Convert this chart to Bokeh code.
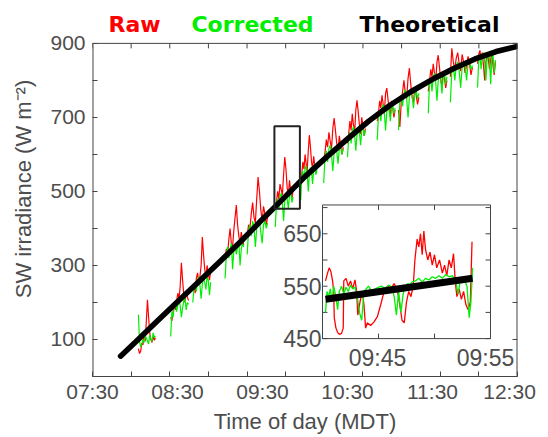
import numpy as np
from bokeh.plotting import figure
from bokeh.models import FixedTicker, Range1d
from bokeh.core.properties import value
from bokeh.embed import file_html
from bokeh.resources import INLINE

# ---------------- data (main panel), time in hours of day ----------------
theo_time = [7.83, 8.0, 8.25, 8.5, 8.75, 9.0, 9.25, 9.5, 9.75, 10.0, 10.25,
             10.5, 10.75, 11.0, 11.25, 11.5, 11.75, 12.0, 12.25, 12.5]
theo_sw = [55, 92, 147, 202, 256, 311, 366, 425, 482, 540, 592,
           642, 690, 733, 770, 803, 832, 858, 878, 892]

seg_start = [8.04, 8.42, 8.68, 9.06, 9.32, 9.65, 9.95, 10.22, 10.50, 10.85, 11.10, 11.45, 11.71, 12.03]
seg_end = [8.24, 8.63, 8.89, 9.28, 9.56, 9.86, 10.14, 10.45, 10.71, 11.06, 11.34, 11.67, 11.97, 12.24]

raw_segments = [
    [75, 62, 68, 90, 85, 110, 95, 150, 207, 160, 118, 100, 92, 110, 98, 105],
    [160, 150, 175, 195, 180, 205, 225, 210, 245, 307, 260, 220, 200, 230, 215, 205],
    [235, 250, 225, 265, 280, 255, 270, 300, 377, 330, 290, 270, 300, 280, 260, 285],
    [320, 345, 330, 370, 400, 360, 350, 395, 430, 463, 410, 380, 360, 390, 370, 355],
    [380, 410, 400, 440, 470, 430, 415, 480, 539, 500, 450, 420, 460, 440, 410, 430],
    [455, 470, 500, 480, 520, 505, 490, 545, 593, 560, 510, 490, 530, 500, 480, 505],
    [525, 550, 580, 560, 600, 575, 555, 610, 652, 620, 580, 560, 595, 570, 550, 575],
    [585, 605, 640, 620, 660, 635, 615, 670, 698, 665, 630, 610, 650, 625, 600, 620],
    [630, 655, 690, 665, 710, 680, 660, 720, 746, 715, 680, 655, 700, 675, 650, 670],
    [690, 710, 745, 725, 760, 735, 715, 765, 779, 750, 720, 705, 745, 725, 700, 720],
    [720, 674, 740, 770, 800, 765, 750, 805, 833, 790, 755, 740, 780, 760, 735, 755],
    [770, 795, 830, 810, 845, 820, 800, 850, 868, 835, 800, 785, 825, 805, 780, 800],
    [810, 887, 850, 830, 860, 875, 845, 825, 870, 850, 820, 840, 865, 845, 815, 835],
    [845, 870, 881, 855, 875, 840, 800, 850, 870, 860, 830, 855, 875, 840, 815, 850],
]
corr_segments = [
    [167, 95, 80, 88, 100, 92, 110, 104, 96, 88, 112, 100, 95, 118, 105, 110],
    [108, 175, 160, 190, 200, 175, 195, 210, 190, 160, 185, 205, 215, 180, 200, 195],
    [200, 240, 255, 230, 260, 270, 245, 210, 250, 265, 255, 235, 270, 260, 220, 255],
    [265, 330, 350, 320, 345, 360, 290, 340, 355, 330, 350, 365, 300, 345, 360, 350],
    [330, 395, 410, 380, 420, 405, 350, 400, 415, 425, 390, 360, 410, 420, 400, 415],
    [404, 465, 480, 450, 485, 495, 470, 420, 475, 490, 480, 455, 490, 500, 470, 485],
    [477, 540, 555, 530, 560, 570, 545, 500, 550, 565, 555, 520, 560, 575, 545, 560],
    [523, 595, 610, 580, 615, 625, 600, 555, 605, 620, 610, 575, 615, 625, 600, 615],
    [593, 645, 660, 630, 665, 675, 650, 610, 655, 670, 660, 625, 665, 680, 650, 665],
    [639, 705, 720, 690, 725, 735, 710, 665, 715, 730, 720, 690, 725, 735, 710, 725],
    [666, 745, 760, 730, 765, 775, 750, 700, 755, 770, 760, 725, 765, 775, 750, 765],
    [711, 790, 805, 770, 810, 820, 795, 745, 800, 815, 805, 765, 810, 820, 790, 810],
    [741, 825, 840, 800, 840, 850, 825, 780, 835, 850, 840, 800, 845, 855, 830, 840],
    [781, 855, 865, 830, 865, 875, 850, 800, 855, 870, 860, 790, 860, 870, 820, 855],
]

box_time = [9.64, 9.94]
box_sw = [453, 676]

x_lim = [7.5, 12.5]
y_lim = [0, 900]
x_tick_hours = [7.5, 8.5, 9.5, 10.5, 11.5, 12.5]
x_tick_labels = ["07:30", "08:30", "09:30", "10:30", "11:30", "12:30\u00a0\u00a0"]
x_minor = np.linspace(7.5, 12.5, 12).tolist()
y_tick_values = [100, 300, 500, 700, 900]
y_minor = list(range(0, 1000, 100))

legend_names = ["Raw", "Corrected", "Theoretical"]
legend_colors = ["#ff0000", "#00ee00", "#000000"]

# ---------------- data (inset), time in minutes after 09:40 ----------------
inset_raw_min = [0.27, 0.45, 0.6, 0.75, 0.9, 1.0, 1.05, 1.2, 1.35, 1.5, 1.7, 1.85, 1.9, 2.1, 2.3,
                 2.5, 2.7, 2.9, 3.05, 3.15, 3.35, 3.55, 3.7, 3.85, 4.0, 4.3, 4.6, 4.9, 5.2, 5.5,
                 5.8, 6.1, 6.4, 6.7, 6.9, 7.1, 7.3, 7.5, 7.7, 7.9, 8.1, 8.25, 8.45, 8.6, 8.75,
                 8.9, 9.05, 9.2, 9.4, 9.6, 9.8, 10.0, 10.2, 10.45, 10.7, 10.9, 11.1, 11.3, 11.5,
                 11.7, 11.85, 12.0, 12.2, 12.4, 12.6, 12.8, 13.0, 13.2, 13.35]
inset_raw_sw = [560, 575, 585, 578, 560, 540, 490, 470, 462, 458, 460, 470, 560, 565, 550,
                560, 545, 562, 540, 495, 520, 540, 515, 470, 480, 475, 482, 492, 515, 540,
                550, 545, 555, 540, 515, 485, 480, 520, 540, 530, 550, 600, 640, 625, 650,
                610, 655, 620, 600, 615, 590, 610, 585, 600, 575, 590, 570, 600, 585,
                612, 560, 530, 545, 525, 540, 515, 505, 520, 635]
inset_corr_min = [0.27, 0.4, 0.55, 0.7, 0.85, 1.0, 1.2, 1.35, 1.5, 1.7, 1.9, 2.1, 2.3, 2.5, 2.7,
                  2.9, 3.1, 3.3, 3.5, 3.7, 3.9, 4.1, 4.4, 4.7, 5.0, 5.3, 5.6, 5.9, 6.2, 6.4,
                  6.6, 6.8, 7.0, 7.2, 7.4, 7.6, 7.8, 8.0, 8.3, 8.6, 8.9, 9.2, 9.5, 9.8, 10.1,
                  10.4, 10.7, 11.0, 11.3, 11.6, 11.9, 12.1, 12.3, 12.6, 12.9, 13.1, 13.25, 13.4]
inset_corr_sw = [500, 540, 530, 545, 520, 550, 530, 505, 540, 550, 535, 548, 540, 552, 545,
                 548, 530, 500, 485, 540, 545, 550, 540, 545, 548, 550, 545, 552, 548, 530,
                 495, 540, 500, 535, 550, 555, 552, 558, 560, 565, 558, 565, 562, 568, 565,
                 570, 565, 572, 568, 570, 560, 535, 560, 565, 550, 490, 520, 585]
inset_theo_min = [0.27, 13.4]
inset_theo_sw = [525, 565]

inset_xlim = [0, 15]
inset_ylim = [450, 705]
inset_x_minor = [0, 5, 10, 15]
inset_x_ticks = [5, 15]
inset_x_labels = ["09:45", "09:55"]
inset_y_minor = [450, 500, 550, 600, 650, 700]
inset_y_ticks = [450, 550, 650]
inset_y_labels = ["450", "550", "650"]

# ---------------- layout constants (pixels) ----------------
W, H = 547, 436
BL, BR, BT, BB = 92, 30, 1, 59        # frame extends above y=900 to hold the legend words
FW, FH = W - BL - BR, H - BT - BB
PLOT_H = 334                           # pixel height of the 0..900 box
IL, IW, IB, IH = 230, 168, 38, 134     # inset frame inside main frame
TICK = 5
uy_main = (y_lim[1] - y_lim[0]) / PLOT_H
ux_main = (x_lim[1] - x_lim[0]) / FW
y_top = y_lim[1] + (FH - PLOT_H) * uy_main
legend_y = y_lim[1] + 19 * uy_main

# ---------------- build concatenated series with gaps ----------------
xs, raw_y, corr_y = [], [], []
for s, e, r, c in zip(seg_start, seg_end, raw_segments, corr_segments):
    xs.extend(np.linspace(s, e, len(r)).tolist() + [np.nan])
    raw_y.extend(r + [np.nan])
    corr_y.extend(c + [np.nan])

AX = "#444444"
TX = "#4d4d4d"
FONT = "Liberation Sans"
RED, GREEN = legend_colors[0], legend_colors[1]

# ---------------- main figure ----------------
p = figure(width=W, height=H, x_range=(x_lim[0], x_lim[1]), y_range=(y_lim[0], y_top),
           toolbar_location=None, output_backend="svg",
           min_border_left=BL, min_border_right=BR, min_border_top=BT, min_border_bottom=BB)
p.grid.visible = False
p.outline_line_color = None

xt = FixedTicker(ticks=x_tick_hours, minor_ticks=x_minor)
yt = FixedTicker(ticks=y_tick_values, minor_ticks=y_minor)
p.xaxis.ticker = xt
p.yaxis.ticker = yt
p.xaxis.major_label_overrides = {h: l for h, l in zip(x_tick_hours, x_tick_labels)}
for ax in (p.xaxis[0], p.yaxis[0]):
    ax.axis_line_color = AX
    ax.major_tick_line_color = None
    ax.major_tick_in = 0
    ax.major_tick_out = 0
    ax.minor_tick_line_color = AX
    ax.minor_tick_in = TICK
    ax.minor_tick_out = 0
    ax.major_label_text_font = FONT
    ax.major_label_text_font_size = "21px"
    ax.major_label_text_color = TX
    ax.axis_label_text_font = FONT
    ax.axis_label_text_font_size = "22px"
    ax.axis_label_text_font_style = "normal"
    ax.axis_label_text_color = TX
p.yaxis.axis_line_color = None
p.xaxis.major_label_standoff = 3
p.yaxis.major_label_standoff = 7
p.xaxis.axis_label = "Time of day (MDT)"
p.yaxis.axis_label = "SW irradiance (W m\u207b\u00b2)"
p.xaxis.axis_label_standoff = 3
p.yaxis.axis_label_standoff = 11

# data
p.line(xs, raw_y, line_color=RED, line_width=1.2)
p.line(xs, corr_y, line_color=GREEN, line_width=1.2)
p.line(theo_time, theo_sw, line_color="black", line_width=5.5, line_cap="round")
p.quad(left=[box_time[0]], right=[box_time[1]], bottom=[box_sw[0]], top=[box_sw[1]],
       fill_color=None, line_color="#222222", line_width=2)

# box edges of the 0..900 area, and inward ticks on top / right sides
p.segment(x0=[x_lim[0], x_lim[1]], y0=[y_lim[0]] * 2, x1=[x_lim[0], x_lim[1]], y1=[y_lim[1]] * 2,
          line_color=AX, line_width=2)
p.segment(x0=[x_lim[0]], y0=[y_lim[1]], x1=[x_lim[1]], y1=[y_lim[1]], line_color=AX, line_width=1)
p.segment(x0=x_minor, y0=[y_lim[1]] * len(x_minor), x1=x_minor,
          y1=[y_lim[1] - TICK * uy_main] * len(x_minor), line_color=AX)
p.segment(x0=[x_lim[1]] * len(y_minor), y0=y_minor, x1=[x_lim[1] - TICK * ux_main] * len(y_minor),
          y1=y_minor, line_color=AX)

# legend words above the box
legend_x = [7.5 + (134 - BL) / 85, 7.5 + (252 - BL) / 85, 7.5 + (429 - BL) / 85]
p.text(x=legend_x, y=[legend_y] * 3, text=legend_names, text_color=legend_colors,
       text_font=value("DejaVu Sans"), text_font_style="bold", text_font_size="22px",
       text_align="center", text_baseline="alphabetic")

# ---------------- inset, drawn on extra ranges of the same figure ----------------
ux = (inset_xlim[1] - inset_xlim[0]) / IW
uy = (inset_ylim[1] - inset_ylim[0]) / IH
p.extra_x_ranges = {"ix": Range1d(inset_xlim[0] - IL * ux,
                                  inset_xlim[1] + (FW - IL - IW) * ux)}
p.extra_y_ranges = {"iy": Range1d(inset_ylim[0] - IB * uy,
                                  inset_ylim[1] + (FH - IB - IH) * uy)}
R = dict(x_range_name="ix", y_range_name="iy")

p.quad(left=[inset_xlim[0]], right=[inset_xlim[1]], bottom=[inset_ylim[0]], top=[inset_ylim[1]],
       fill_color="white", line_color=AX, line_width=1, **R)
tx, ty = TICK * ux, TICK * uy
nx, ny = len(inset_x_minor), len(inset_y_minor)
p.segment(x0=inset_x_minor, y0=[inset_ylim[0]] * nx, x1=inset_x_minor, y1=[inset_ylim[0] + ty] * nx,
          line_color=AX, **R)
p.segment(x0=inset_x_minor, y0=[inset_ylim[1]] * nx, x1=inset_x_minor, y1=[inset_ylim[1] - ty] * nx,
          line_color=AX, **R)
p.segment(x0=[inset_xlim[0]] * ny, y0=inset_y_minor, x1=[inset_xlim[0] + tx] * ny, y1=inset_y_minor,
          line_color=AX, **R)
p.segment(x0=[inset_xlim[1]] * ny, y0=inset_y_minor, x1=[inset_xlim[1] - tx] * ny, y1=inset_y_minor,
          line_color=AX, **R)

p.line(inset_raw_min, inset_raw_sw, line_color=RED, line_width=1.3, **R)
p.line(inset_corr_min, inset_corr_sw, line_color=GREEN, line_width=1.3, **R)
p.line(inset_theo_min, inset_theo_sw, line_color="black", line_width=7, **R)

p.text(x=inset_x_ticks, y=[inset_ylim[0]] * len(inset_x_ticks), text=inset_x_labels,
       x_offset=[-1, -5], y_offset=6, text_align="center", text_baseline="top",
       text_font=value(FONT), text_font_size="23px", text_color=TX, **R)
p.text(x=[inset_xlim[0]] * len(inset_y_ticks), y=inset_y_ticks, text=inset_y_labels,
       x_offset=-1, text_align="right", text_baseline="middle",
       text_font=value(FONT), text_font_size="23px", text_color=TX, **R)

open("out.html", "w").write(file_html(p, INLINE))
